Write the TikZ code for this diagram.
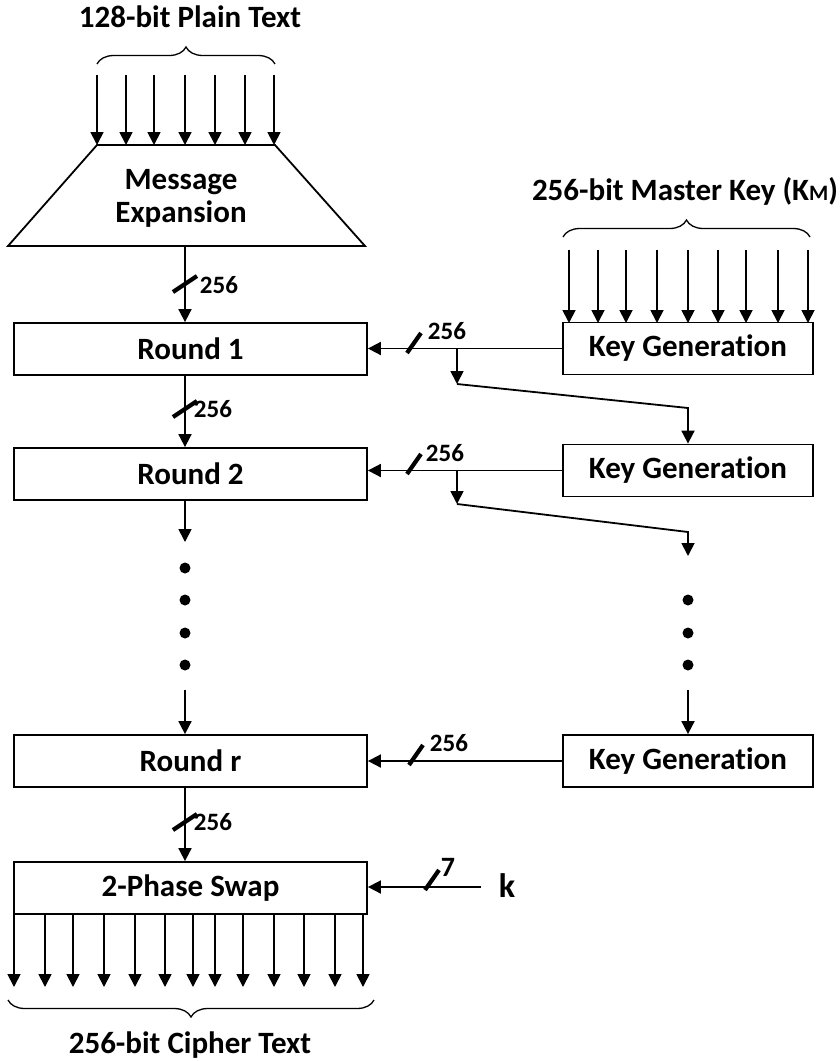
\documentclass[tikz,border=0pt]{standalone}
\usepackage{fontspec}
\setmainfont{Carlito}[Ligatures=NoCommon]
\usetikzlibrary{arrows.meta,decorations.pathreplacing}
\tikzset{
  big/.style={font=\bfseries\fontsize{31}{32}\selectfont},
  lab/.style={font=\bfseries\fontsize{25}{26}\selectfont, inner sep=0pt},
  arr/.style={-{Triangle[width=13pt,length=13pt]}},
  rbox/.style={draw, big, minimum width=353pt, minimum height=52pt, inner sep=0pt},
  kbox/.style={draw, big, minimum width=250pt, minimum height=52pt, inner sep=0pt},
  brc/.style={decorate, decoration={brace, amplitude=17pt}, line width=1.3pt},
  dot/.style={circle, fill=black, inner sep=0pt, minimum size=11pt},
  pics/vslash/.style={code={\draw[line width=4.2pt] (-12,8) -- (12,-8);}},
  pics/hslash/.style={code={\draw[line width=4.2pt] (-7,10) -- (7,-10);}}
}
\begin{document}
\begin{tikzpicture}[x=1pt,y=-1pt,line width=1.8pt]
\useasboundingbox (0,0) rectangle (839,1061);

% ---------- left column ----------
\node[big] (pt) at (190,17) {128-bit Plain Text};
\draw[brc] (97,64) -- (275,64);
\foreach \x in {97,126,154,185,215,245,274}
  \draw[arr] (\x,75) -- (\x,145);
\draw (97,145) -- (275,145) -- (365,246) -- (8,246) -- cycle;
\node[big, align=center] (msg) at (181,198) {Message\\[1pt]Expansion};
\coordinate (msgb) at (185,246);

\node[rbox] (r1) at (190.5,349) {Round 1};
\node[rbox] (r2) at (190.5,474) {Round 2};
\node[rbox] (rr) at (190.5,761) {Round r};
\node[rbox] (sw) at (190.5,888) {2-Phase Swap};

\draw[arr] (msgb) -- (msgb |- r1.north);
\pic at (185,284) {vslash};
\node[lab, anchor=west] (l1) at (199,285) {256};

\draw[arr] (msgb |- r1.south) -- (msgb |- r2.north);
\pic at (185,409) {vslash};
\node[lab, anchor=west] (l2) at (193,409) {256};

\coordinate (d0) at (185,542);
\draw[arr] (msgb |- r2.south) -- (d0);
\foreach \y [count=\i] in {568,600,633,665}
  \node[dot] (ld\i) at (185,\y) {};
\coordinate (d1) at (185,690);
\draw[arr] (d1) -- (msgb |- rr.north);

\draw[arr] (msgb |- rr.south) -- (msgb |- sw.north);
\pic at (185,822) {vslash};
\node[lab, anchor=west] (l3) at (193,822) {256};

% output arrows
\foreach \x in {14,45,73,104,135,165,193,215,243,274,304,335,363}
  \draw[arr] (\x,914) -- (\x,987);
\draw[brc] (374,1000) -- (8,1000);
\node[big] (ct) at (190,1045) {256-bit Cipher Text};

% ---------- right column ----------
\node[big] (mk) at (685,191) {256-bit Master Key (K{\fontsize{22}{22}\selectfont M})};
\draw[brc] (563,237) -- (810,237);
\foreach \x in {569,598,626,657,688,718,746,778,808}
  \draw[arr] (\x,250) -- (\x,323);

\node[kbox] (k1) at (688,348.5) {Key Generation};
\node[kbox] (k2) at (688,470.5) {Key Generation};
\node[kbox] (k3) at (688,761) {Key Generation};

\draw[arr] (k1.west) -- (r1.east |- k1.west);
\pic at (414,343) {hslash};
\node[lab, anchor=west] (h1) at (427,331) {256};
\coordinate (b1) at (457,349);
\coordinate (b1t) at (457,384);
\draw[arr] (b1) -- (b1t);
\draw[arr] (b1t) -- (688,408) -- (k2.north);

\draw[arr] (k2.west) -- (r2.east |- k2.west);
\pic at (414,464) {hslash};
\node[lab, anchor=west] (h2) at (425,453) {256};
\coordinate (b2) at (457,470);
\coordinate (b2t) at (457,504);
\draw[arr] (b2) -- (b2t);
\coordinate (d2) at (688,556);
\draw[arr] (b2t) -- (688,532) -- (d2);
\foreach \y [count=\i] in {600,633,665}
  \node[dot] (rd\i) at (688,\y) {};
\coordinate (d3) at (688,690);
\draw[arr] (d3) -- (k3.north);

\draw[arr] (k3.west) -- (rr.east |- k3.west);
\pic at (416,755) {hslash};
\node[lab, anchor=west] (h3) at (429,743) {256};

% k input
\node[font=\bfseries\fontsize{34}{34}\selectfont] (kk) at (507,886) {k};
\coordinate (ks) at (481,887);
\draw[arr] (ks) -- (sw.east |- ks);
\pic at (432,880) {hslash};
\node[lab, font=\bfseries\fontsize{28}{28}\selectfont, anchor=west] (h4) at (440,867) {7};
\end{tikzpicture}
\end{document}
